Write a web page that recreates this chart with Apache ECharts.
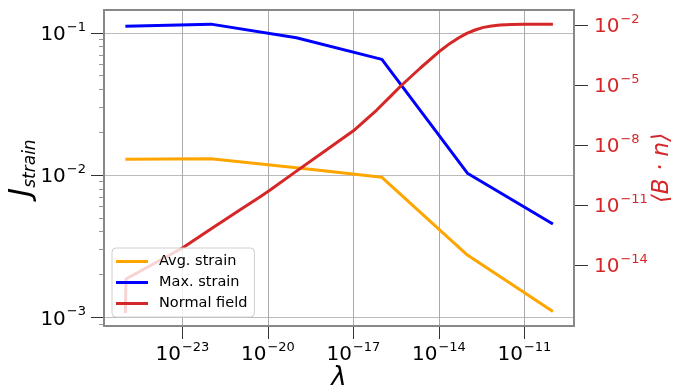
<!DOCTYPE html>
<html><head><meta charset="utf-8">
<script src="https://cdn.jsdelivr.net/npm/echarts@6/dist/echarts.min.js"></script>
<style>html,body{margin:0;padding:0;background:#fff}#c{width:678px;height:391px}</style>
</head><body><div id="c"></div>
<script>
// ---- data ----
const lambdaValues = [1e-25, 1e-22, 1e-19, 1e-16, 1e-13, 1e-10];
const avgStrain = [0.0129, 0.0130, 0.01125, 0.00964, 0.00274, 0.0011];
const maxStrain = [0.111, 0.115, 0.0922, 0.065, 0.0103, 0.00453];
const fieldLambda = [1e-25, 1.05e-25, 1e-23, 1e-22, 1e-21, 5.4e-21, 1.2e-20, 7.8e-20, 1e-18, 1e-17, 6.6e-17, 2e-16, 5e-16, 2.24e-15, 1e-14, 2.45e-14, 5e-14, 9.5e-14, 1.86e-13, 3.63e-13, 7.08e-13, 1.41e-12, 3.55e-12, 9.3e-12, 1e-10];
const normalField = [3.98e-17, 2.0e-15, 7.08e-14, 6.3e-13, 5.4e-12, 2.6e-11, 5.6e-11, 3.8e-10, 5.0e-9, 5.13e-8, 5.6e-7, 2.7e-6, 1e-5, 7.08e-5, 4.57e-4, 1.2e-3, 2.29e-3, 3.8e-3, 5.62e-3, 7.59e-3, 8.91e-3, 1.0e-2, 1.047e-2, 1.084e-2, 1.084e-2];
const xTickExps = [-23, -20, -17, -14, -11];
const leftTickExps = [-3, -2, -1];
const rightTickExps = [-14, -11, -8, -5, -2];
const seriesNames = ['Avg. strain', 'Max. strain', 'Normal field'];

// ---- helpers ----
const lg = Math.log10;
const pairs = (xs, ys) => xs.map((x, i) => [lg(x), lg(ys[i])]);
const leftMinor = [];
for (let e = -4; e <= 0; e++) for (let k = 2; k <= 9; k++) leftMinor.push(lg(k * Math.pow(10, e)));
const FONT = 'DejaVu Sans';
const powFmt = v => '{b|10}{e|' + (v < 0 ? '\u2212' : '') + Math.abs(Math.round(v)) + '}';
const richPow = color => ({
  b: { fontFamily: FONT, fontSize: 20, color: color, lineHeight: 24, verticalAlign: 'bottom' },
  e: { fontFamily: FONT, fontSize: 13, color: color, lineHeight: 14, verticalAlign: 'top', padding: [0, 0, 0, 1] }
});

const chart = echarts.init(document.getElementById('c'), null, { renderer: 'canvas' });
chart.setOption({
  animation: false,
  backgroundColor: '#fff',
  grid: { left: 104, right: 104, top: 10, bottom: 65, containLabel: false, outerBoundsMode: 'none', show: true, borderColor: '#888', borderWidth: 2, backgroundColor: 'transparent', z: 3 },
  legend: {
    data: seriesNames,
    orient: 'vertical',
    left: 112, top: 248,
    icon: 'rect', itemWidth: 32, itemHeight: 3, itemGap: 6,
    padding: [6, 7, 6, 4],
    backgroundColor: 'rgba(255,255,255,0.8)',
    borderColor: '#d0d0d0', borderWidth: 1, borderRadius: 4,
    textStyle: { fontFamily: FONT, fontSize: 14.5, color: '#000', padding: [0, 0, 0, 6] },
    z: 10
  },
  xAxis: {
    type: 'value', min: -25.75, max: -9.26,
    name: 'λ', nameLocation: 'middle', nameGap: 39, nameMoveOverlap: false,
    nameTextStyle: { fontFamily: FONT, fontSize: 26, fontStyle: 'italic', color: '#000' },
    axisLine: { show: false },
    axisTick: { show: true, length: 13, inside: false, customValues: xTickExps, lineStyle: { color: '#333', width: 1 } },
    axisLabel: { customValues: xTickExps, margin: 15, formatter: powFmt, rich: richPow('#000') },
    splitLine: { show: true, lineStyle: { color: '#aaa', width: 1 } }
  },
  yAxis: [
    {
      type: 'value', min: -3.061, max: -0.84, position: 'left',
      name: '{j|J}{s|strain}', nameLocation: 'middle', nameRotate: 90, nameGap: 65, nameMoveOverlap: false,
      nameTextStyle: { rich: {
        j: { fontFamily: FONT, fontSize: 30, fontStyle: 'italic', color: '#000', lineHeight: 32, verticalAlign: 'top' },
        s: { fontFamily: FONT, fontSize: 17, fontStyle: 'italic', color: '#000', lineHeight: 30, verticalAlign: 'bottom' }
      } },
      axisLine: { show: false },
      axisTick: { show: true, length: 13, customValues: leftTickExps, lineStyle: { color: '#333', width: 1 } },
      axisLabel: { customValues: leftTickExps, margin: 18, formatter: powFmt, rich: richPow('#000') },
      splitLine: { show: true, lineStyle: { color: '#bbb', width: 1.2 } }
    },
    {
      type: 'value', min: -17.05, max: -1.25, position: 'right',
      name: '\u27E8B \u00B7 n\u27E9', nameLocation: 'middle', nameRotate: 90, nameGap: 77, nameMoveOverlap: false,
      nameTextStyle: { fontFamily: FONT, fontSize: 23, fontStyle: 'italic', color: '#d62728' },
      axisLine: { show: false },
      axisTick: { show: true, length: 14, customValues: rightTickExps, lineStyle: { color: '#333', width: 1 } },
      axisLabel: { customValues: rightTickExps, margin: 20, formatter: powFmt, rich: richPow('#d62728') },
      splitLine: { show: false }
    },
    {
      type: 'value', min: -3.061, max: -0.84, position: 'left',
      axisLine: { show: false },
      axisTick: { show: true, length: 5, customValues: leftMinor, lineStyle: { color: '#999', width: 1 } },
      axisLabel: { show: false },
      splitLine: { show: false }
    }
  ],
  series: [
    { name: seriesNames[0], type: 'line', yAxisIndex: 0, data: pairs(lambdaValues, avgStrain), showSymbol: false, symbol: 'none', lineStyle: { color: '#FFA500', width: 3 }, itemStyle: { color: '#FFA500' } },
    { name: seriesNames[1], type: 'line', yAxisIndex: 0, data: pairs(lambdaValues, maxStrain), showSymbol: false, symbol: 'none', lineStyle: { color: '#0000FF', width: 3 }, itemStyle: { color: '#0000FF' } },
    { name: seriesNames[2], type: 'line', yAxisIndex: 1, data: pairs(fieldLambda, normalField), showSymbol: false, symbol: 'none', lineStyle: { color: '#d62728', width: 3, join: 'round' }, itemStyle: { color: '#d62728' } }
  ]
});
</script></body></html>
